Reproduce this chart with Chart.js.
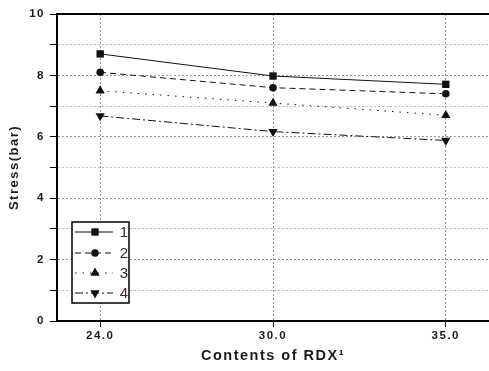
<!DOCTYPE html>
<html>
<head>
<meta charset="utf-8">
<script src="https://cdn.jsdelivr.net/npm/chart.js@4/dist/chart.umd.min.js"></script>
<style>
  html, body { margin: 0; padding: 0; background: #fff; }
  #wrap { width: 489px; height: 371px; }
</style>
</head>
<body>
<div id="wrap"><canvas id="grafico" width="489" height="371"></canvas></div>
<script>
// conteudo de RDX (eixo x) e tensao em bar de cada serie
var contents = ['24.0', '30.0', '35.0'];
var serieNomes = ['1', '2', '3', '4'];
var stress1 = [8.7, 7.98, 7.71];
var stress2 = [8.1, 7.6, 7.4];
var stress3 = [7.5, 7.1, 6.7];
var stress4 = [6.68, 6.17, 5.88];
var yTicks = [0, 2, 4, 6, 8, 10];

var fonte = '"Liberation Sans", Arial, sans-serif';

function pontos(valores) {
  return valores.map(function (v, i) { return { x: i, y: v }; });
}

var estilos = [
  { dash: [], ponto: 'rect', raio: 5.2, rot: 0 },
  { dash: [6, 4], ponto: 'circle', raio: 3.8, rot: 0 },
  { dash: [1.5, 6], ponto: 'triangle', raio: 5.4, rot: 0 },
  { dash: [8, 3, 2, 3], ponto: 'triangle', raio: 5.4, rot: 180 }
];
var series = [stress1, stress2, stress3, stress4];

var datasets = series.map(function (s, i) {
  var e = estilos[i];
  return {
    label: serieNomes[i],
    data: pontos(s),
    borderColor: '#111',
    backgroundColor: '#111',
    borderWidth: 1,
    borderDash: e.dash,
    pointStyle: e.ponto,
    pointRadius: e.raio,
    pointRotation: e.rot,
    pointBorderWidth: 0,
    tension: 0
  };
});

// desenha um marcador no mesmo estilo dos pontos
function marcador(ctx, tipo, raio, rot, x, y) {
  ctx.save();
  ctx.fillStyle = '#111';
  ctx.beginPath();
  if (tipo === 'rect') {
    var s = raio * Math.SQRT1_2;
    ctx.rect(x - s, y - s, 2 * s, 2 * s);
  } else if (tipo === 'circle') {
    ctx.arc(x, y, raio, 0, Math.PI * 2);
  } else {
    var a = rot * Math.PI / 180;
    for (var k = 0; k < 3; k++) {
      var px = x + Math.sin(a) * raio, py = y - Math.cos(a) * raio;
      if (k === 0) ctx.moveTo(px, py); else ctx.lineTo(px, py);
      a += 2 * Math.PI / 3;
    }
    ctx.closePath();
  }
  ctx.fill();
  ctx.restore();
}

var molduraPlugin = {
  id: 'moldura',
  beforeDraw: function (chart) {
    chart.ctx.letterSpacing = '1.5px';
  },
  afterDraw: function (chart) {
    var ctx = chart.ctx;
    var area = chart.chartArea;
    ctx.save();
    ctx.letterSpacing = '0px';
    // linha superior
    ctx.strokeStyle = '#000';
    ctx.lineWidth = 2;
    ctx.beginPath();
    ctx.moveTo(area.left, area.top);
    ctx.lineTo(area.right, area.top);
    ctx.stroke();

    // legenda
    var bx = 72, by = 222, bw = 57, bh = 81;
    ctx.fillStyle = '#fff';
    ctx.fillRect(bx, by, bw, bh);
    ctx.lineWidth = 1.5;
    ctx.strokeRect(bx, by, bw, bh);
    var linhas = [232, 253, 273, 293];
    chart.data.datasets.forEach(function (ds, i) {
      var y = linhas[i];
      var e = estilos[i];
      ctx.save();
      ctx.strokeStyle = '#111';
      ctx.lineWidth = 1;
      ctx.setLineDash(e.dash);
      ctx.beginPath();
      ctx.moveTo(75, y);
      ctx.lineTo(113, y);
      ctx.stroke();
      ctx.restore();
      marcador(ctx, e.ponto, e.raio, e.rot, 95, y);
      ctx.fillStyle = '#3a2838';
      ctx.font = '15px ' + fonte;
      ctx.textAlign = 'center';
      ctx.textBaseline = 'middle';
      ctx.fillText(ds.label, 124, y + 1);
    });
    ctx.restore();
  }
};

var ctx = document.getElementById('grafico');
var chart = new Chart(ctx, {
  type: 'line',
  data: { datasets: datasets },
  plugins: [molduraPlugin],
  options: {
    responsive: false,
    animation: false,
    layout: { autoPadding: false, padding: { top: 14, right: 0, bottom: 0, left: 0 } },
    plugins: {
      legend: { display: false },
      tooltip: { enabled: false }
    },
    scales: {
      x: {
        type: 'linear',
        min: -0.25,
        max: 2.25,
        afterBuildTicks: function (scale) {
          scale.ticks = contents.map(function (c, i) { return { value: i }; });
        },
        afterFit: function (scale) {
          scale.height = 50;
          scale.paddingLeft = 0;
          scale.paddingRight = 0;
        },
        grid: {
          color: '#999',
          lineWidth: 1,
          tickColor: '#000',
          tickLength: 6,
          tickWidth: 1
        },
        border: { display: true, color: '#000', width: 2, dash: [2, 2] },
        ticks: {
          color: '#1a1a1a',
          padding: 2,
          font: { family: fonte, size: 11.5, weight: 'bold' },
          callback: function (v) { return contents[v]; }
        },
        title: {
          display: true,
          text: 'Contents of RDX\u00B9',
          color: '#1a1a1a',
          font: { family: fonte, size: 14.5, weight: 'bold' },
          padding: { top: 0, bottom: 6 }
        }
      },
      y: {
        min: 0,
        max: 10,
        afterBuildTicks: function (scale) {
          var t = [];
          for (var v = 0; v <= 10; v++) t.push({ value: v });
          scale.ticks = t;
        },
        afterFit: function (scale) {
          scale.width = 57;
          scale.paddingTop = 0;
          scale.paddingBottom = 0;
        },
        grid: {
          color: function (c) { return c.tick && c.tick.value % 2 === 0 ? '#999' : '#bbb'; },
          lineWidth: 1,
          tickColor: '#000',
          tickLength: 7,
          tickWidth: 1
        },
        border: { display: true, color: '#000', width: 2, dash: [2, 2] },
        ticks: {
          color: '#1a1a1a',
          padding: 5,
          font: { family: fonte, size: 11.5, weight: 'bold' },
          callback: function (v) { return yTicks.indexOf(v) >= 0 ? String(v) : ''; }
        },
        title: {
          display: true,
          text: 'Stress(bar)',
          color: '#1a1a1a',
          font: { family: fonte, size: 13, weight: 'bold' },
          padding: { top: 7, bottom: 0 }
        }
      }
    }
  }
});
</script>
</body>
</html>
